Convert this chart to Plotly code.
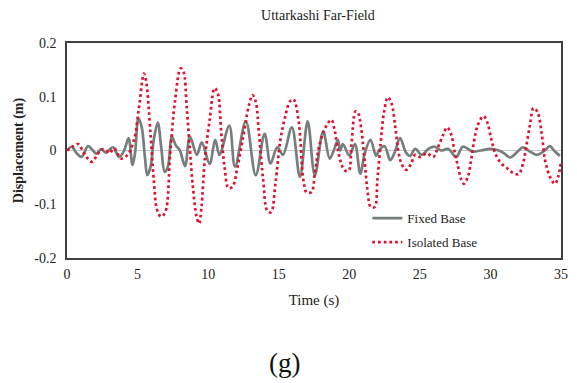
import plotly.graph_objects as go

# Time (s) and displacement (m)
t_fixed = [0, 0.33, 0.68, 1.03, 1.49, 1.84, 2.07, 2.42, 2.77, 3.24, 3.7, 4.05, 4.36, 4.64, 4.82,
           5.06, 5.29, 5.52, 5.69, 5.92, 6.15, 6.43, 6.68, 6.92, 7.15, 7.43, 7.7, 8.0, 8.36, 8.71,
           9.2, 9.55, 10.1, 10.5, 10.8, 11.5, 11.9, 12.67, 13.37, 14.0, 14.42, 14.9, 15.3, 15.93,
           16.5, 17.05, 17.56, 18.15, 18.61, 18.9, 19.2, 19.35, 19.55, 20.0, 20.4, 20.78, 21.1,
           21.5, 21.9, 22.1, 22.5, 22.9, 23.2, 23.6, 24.0, 24.3, 24.67, 25.13, 25.6, 26.07, 26.5,
           27.0, 27.58, 28.05, 28.75, 29.3, 30.0, 30.6, 30.95, 31.4, 32.0, 32.3, 32.8, 33.3,
           33.85, 34.2, 34.57, 34.92]
d_fixed = [0, 0.007, -0.005, -0.012, 0.008, 0.0, -0.006, 0.002, -0.004, 0.006, -0.012, 0.0, 0.023,
           -0.027, -0.005, 0.06, 0.044, -0.012, -0.046, -0.03, 0.02, 0.052, 0.005, -0.04, -0.03,
           0.026, 0.01, 0.0, -0.029, 0.026, -0.008, 0.015, -0.025, 0.02, -0.008, 0.046, -0.03,
           0.054, -0.046, 0.031, -0.024, 0.006, -0.008, 0.043, -0.049, 0.054, -0.046, 0.035,
           -0.015, 0.0, 0.02, 0.0, 0.012, -0.009, 0.012, -0.043, -0.005, 0.02, -0.01, 0.0, 0.008,
           -0.018, -0.005, 0.023, -0.003, -0.01, 0.003, -0.008, 0.003, 0.007, 0.0, 0.003, -0.012,
           0.007, -0.002, 0.0, 0.003, 0.0, -0.005, -0.013, 0.0, 0.006, -0.002, -0.008, 0.0, 0.008,
           -0.002, -0.01]

t_iso = [0.0, 0.44, 0.79, 1.14, 1.37, 1.77, 2.1, 2.42, 2.77, 3.0, 3.35, 3.82, 4.29, 4.75, 5.1,
         5.45, 5.6, 5.92, 6.15, 6.38, 6.66, 6.96, 7.31, 7.66, 8.05, 8.25, 8.48, 8.71, 8.94, 9.18,
         9.36, 9.53, 9.76, 10.11, 10.46, 10.69, 10.93, 11.16, 11.44, 11.74, 12.04, 12.44, 12.9,
         13.14, 13.37, 13.6, 13.9, 14.19, 14.45, 14.77, 15.12, 15.46, 15.81, 16.05, 16.4, 16.75,
         16.98, 17.33, 17.56, 17.91, 18.38, 18.73, 18.96, 19.2, 19.43, 19.66, 19.96, 20.15,
         20.45, 20.62, 20.83, 21.06, 21.29, 21.52, 21.8, 21.99, 22.22, 22.45, 22.73, 22.99,
         23.27, 23.5, 23.74, 24.04, 24.37, 24.67, 25.02, 25.48, 25.95, 26.3, 26.65, 26.93,
         27.23, 27.46, 27.7, 27.93, 28.12, 28.4, 28.63, 28.86, 29.1, 29.51, 29.79, 30.07,
         30.38, 30.77, 31.19, 31.61, 32.0, 32.31, 32.59, 32.82, 33.05, 33.33, 33.63, 33.87,
         34.22, 34.57, 34.8, 35.0]
d_iso = [0.0, 0.008, 0.012, -0.002, -0.012, -0.021, -0.01, 0.002, 0.0, -0.005, 0.004, -0.015,
         -0.008, 0.02, 0.08, 0.143, 0.13, 0.03, -0.055, -0.11, -0.123, -0.115, -0.005, 0.094,
         0.153, 0.147, 0.081, 0.0, -0.073, -0.123, -0.136, -0.105, -0.018, 0.057, 0.116, 0.106,
         0.032, -0.03, -0.07, -0.067, -0.036, 0.02, 0.085, 0.103, 0.091, 0.032, -0.055, -0.112,
         -0.115, -0.061, 0.02, 0.063, 0.092, 0.095, 0.057, -0.055, -0.078, -0.077, -0.042, 0.013,
         0.046, 0.057, 0.038, 0.0, -0.024, -0.037, -0.037, 0.01, 0.073, 0.07, 0.044, -0.012,
         -0.074, -0.105, -0.105, -0.055, 0.013, 0.069, 0.099, 0.088, 0.041, -0.005, -0.027,
         -0.036, -0.025, -0.008, -0.012, -0.005, -0.012, 0.007, 0.029, 0.043, 0.029, -0.002,
         -0.03, -0.054, -0.062, -0.049, -0.018, 0.02, 0.047, 0.064, 0.051, 0.02, -0.008, -0.024,
         -0.033, -0.042, -0.044, -0.024, 0.016, 0.051, 0.079, 0.072, 0.032, -0.018, -0.049,
         -0.062, -0.049, -0.02]

x_ticks = [0, 5, 10, 15, 20, 25, 30, 35]
y_ticks = [-0.2, -0.1, 0, 0.1, 0.2]
y_tick_labels = ["-0.2", "-0.1", "0", "0.1", "0.2"]

SERIF = "Times New Roman, Liberation Serif, Tinos, DejaVu Serif, serif"

fig = go.Figure()
fig.add_trace(go.Scatter(x=t_fixed, y=d_fixed, mode="lines", name="Fixed Base",
                         line=dict(color="#767f7c", width=2.7, shape="spline", smoothing=1),
                         legendgroup="a"))
fig.add_trace(go.Scatter(x=t_iso, y=d_iso, mode="lines", name="Isolated Base",
                         line=dict(color="#e2102c", width=2.7, dash="2.7px,3px",
                                   shape="spline", smoothing=1),
                         legendgroup="b"))

fig.update_layout(
    width=577, height=383,
    margin=dict(l=67, r=9, t=43, b=125),
    paper_bgcolor="white", plot_bgcolor="white",
    font=dict(family=SERIF, size=13, color="#222"),
    title=dict(text="Uttarkashi Far-Field", x=0.551, xanchor="center", y=0.96, yanchor="middle",
               font=dict(family=SERIF, size=14, color="#222")),
    showlegend=True,
    legend=dict(x=0.608, xanchor="left", y=0.255, yanchor="top", bgcolor="rgba(0,0,0,0)",
                font=dict(family=SERIF, size=13, color="#222"), tracegroupgap=4,
                traceorder="grouped"),
    xaxis=dict(range=[0, 35], tickvals=x_ticks, showgrid=False, zeroline=False,
               showline=True, mirror=True, linecolor="#404040", linewidth=1.5, ticks="",
               tickfont=dict(family=SERIF, size=14), ticklabelstandoff=2,
               title=dict(text="Time (s)", font=dict(family=SERIF, size=15), standoff=14)),
    yaxis=dict(range=[-0.2, 0.2], tickvals=y_ticks, ticktext=y_tick_labels, showgrid=False,
               zeroline=True, zerolinecolor="#c8c8c8", zerolinewidth=1,
               showline=True, mirror=True, linecolor="#404040", linewidth=1.5, ticks="",
               tickfont=dict(family=SERIF, size=14), ticklabelstandoff=6,
               title=dict(text="<b>Displacement (m)</b>", font=dict(family=SERIF, size=14),
                          standoff=7)),
)
fig.add_annotation(text="(g)", xref="paper", yref="paper", x=0.44, y=-0.49,
                   xanchor="center", yanchor="middle", showarrow=False,
                   font=dict(family=SERIF, size=27, color="#111"))

fig.write_html("out.html")
